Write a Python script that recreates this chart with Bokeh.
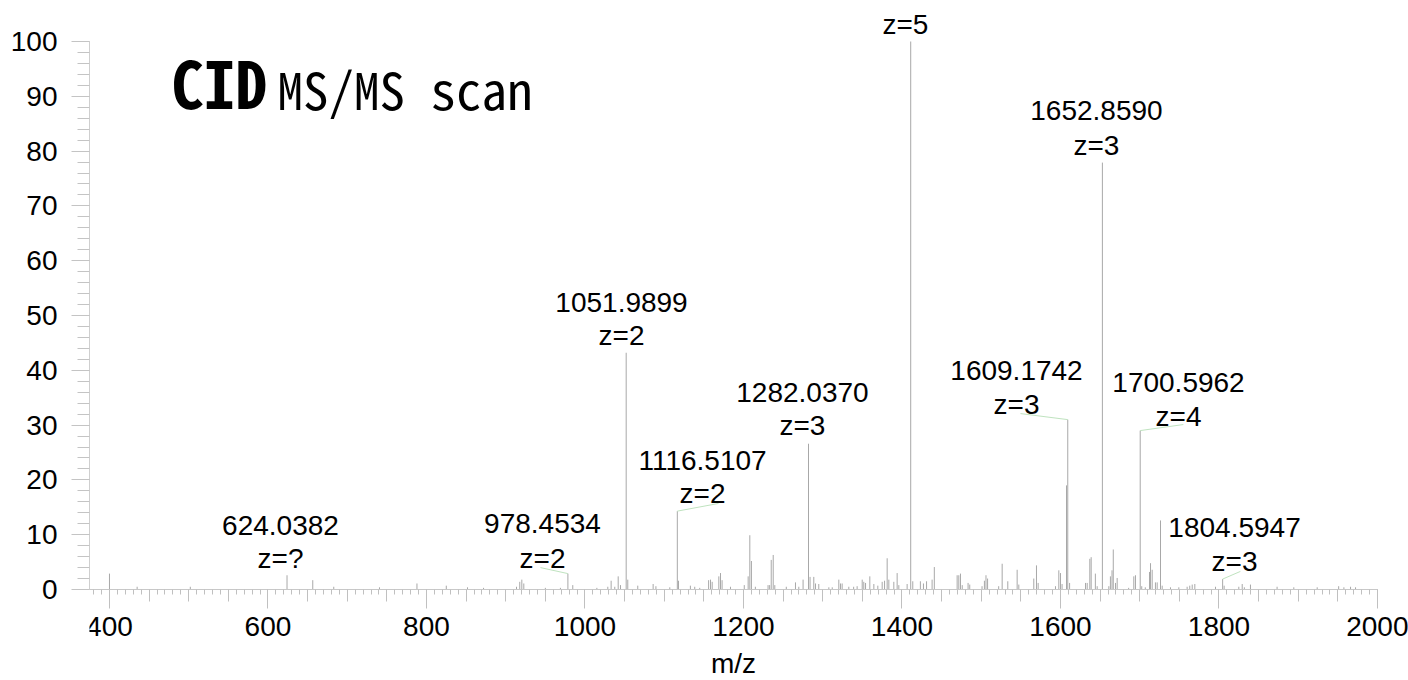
from bokeh.plotting import figure
from bokeh.models import (LinearAxis, FixedTicker, Range1d, ColumnDataSource)
from bokeh.core.properties import value
from bokeh.embed import file_html
from bokeh.resources import INLINE

# ---------------- data ----------------
peak_mz = [400.0, 434.9, 502.0, 624.0382, 656.5, 683.0, 740.7, 788.0, 825.0, 851.8,
           872.0, 913.6, 917.7, 920.3, 922.8, 950.0, 969.0, 978.4534, 984.6, 1015.0,
           1028.8, 1033.0, 1037.6, 1041.9, 1044.8, 1051.9899, 1054.0, 1066.6, 1086.0, 1089.5,
           1107.0, 1116.5107, 1118.0, 1133.0, 1138.5, 1144.8, 1156.0, 1158.4, 1160.5, 1168.9,
           1171.0, 1173.0, 1183.6, 1201.0, 1205.9, 1208.0, 1210.0, 1215.0, 1231.0, 1233.0,
           1235.0, 1237.5, 1239.5, 1254.0, 1265.6, 1269.8, 1275.2, 1282.0370, 1284.0, 1288.7,
           1290.9, 1295.0, 1307.7, 1312.0, 1320.3, 1322.4, 1324.5, 1332.9, 1339.0, 1343.4,
           1349.8, 1351.8, 1354.0, 1359.4, 1364.5, 1369.5, 1375.0, 1378.0, 1381.3, 1383.4,
           1389.7, 1393.9, 1396.0, 1406.5, 1411.0, 1413.6, 1423.2, 1427.1, 1431.0, 1438.0,
           1440.8, 1469.6, 1471.7, 1473.8, 1476.0, 1483.4, 1485.5, 1501.0, 1504.0, 1506.0,
           1508.0, 1522.0, 1526.4, 1533.5, 1545.3, 1547.4, 1566.3, 1569.7, 1571.8, 1593.7,
           1597.9, 1600.0, 1602.0, 1607.6, 1609.1742, 1611.5, 1631.6, 1633.7, 1637.0, 1638.7,
           1644.0, 1646.3, 1652.8590, 1661.0, 1663.0, 1665.0, 1666.6, 1669.4, 1671.5, 1686.0,
           1692.5, 1694.6, 1700.5962, 1702.5, 1707.0, 1712.3, 1713.6, 1715.7, 1719.8, 1722.0,
           1726.2, 1728.3, 1738.8, 1749.3, 1759.8, 1763.1, 1766.2, 1769.5, 1795.6, 1804.5947,
           1806.5, 1825.0, 1829.3, 1832.0, 1839.7, 1873.3, 1894.4, 1923.9, 1951.0, 1957.6,
           1966.0, 1972.3]
peak_int = [2.9, 0.5, 0.5, 2.6, 1.7, 0.5, 0.4, 1.1, 0.7, 0.4,
            0.3, 0.5, 1.4, 1.8, 1.1, 0.3, 0.3, 2.9, 0.8, 0.3,
            0.5, 1.6, 0.5, 2.4, 0.8, 43.2, 1.8, 0.7, 1.0, 0.6,
            0.4, 14.3, 1.6, 0.7, 0.5, 0.3, 1.7, 1.8, 1.4, 2.4,
            3.0, 1.7, 0.5, 0.8, 2.4, 9.9, 5.2, 0.5, 0.8, 0.8,
            5.4, 6.3, 0.8, 0.5, 1.3, 0.5, 1.8, 26.6, 2.3, 2.3,
            1.1, 1.0, 0.4, 0.4, 1.8, 1.1, 1.1, 0.5, 0.5, 0.6,
            1.8, 1.4, 1.2, 2.4, 1.0, 0.7, 1.4, 1.6, 5.7, 1.8,
            1.4, 3.0, 0.8, 1.0, 100.0, 1.5, 1.5, 1.1, 1.5, 1.8,
            4.1, 2.6, 2.6, 2.9, 0.8, 1.2, 0.9, 0.6, 1.6, 2.6,
            2.0, 0.6, 4.7, 1.5, 3.6, 0.9, 2.0, 4.4, 1.2, 0.6,
            3.5, 3.0, 1.0, 19.0, 31.0, 1.2, 1.2, 1.2, 5.6, 5.9,
            2.9, 0.6, 77.9, 0.6, 2.4, 3.5, 7.3, 1.2, 2.1, 0.3,
            2.4, 2.6, 29.0, 0.6, 0.4, 3.2, 4.8, 3.6, 1.3, 1.3,
            12.6, 0.7, 0.4, 0.4, 0.5, 0.7, 0.9, 1.0, 0.5, 1.9,
            0.7, 0.5, 1.0, 0.4, 0.9, 0.5, 0.4, 0.4, 0.6, 0.4,
            0.5, 0.4]

# annotated peaks
ann_mz = [624.0382, 978.4534, 1051.9899, 1116.5107, 1282.0370,
          1609.1742, 1652.8590, 1700.5962, 1804.5947]
ann_charge = ["z=?", "z=2", "z=2", "z=2", "z=3", "z=3", "z=3", "z=4", "z=3"]
base_charge = "z=5"

# tick definitions
x_major_ticks = [400, 600, 800, 1000, 1200, 1400, 1600, 1800, 2000]
y_major_ticks = [0, 10, 20, 30, 40, 50, 60, 70, 80, 90, 100]

# ---------------- layout (label placements) ----------------
lab_x = [615.8, 946.4, 1046.1, 1148.3, 1274.4, 1544.5, 1645.4, 1748.9, 1819.6]
lab_y1 = [11.68, 12.04, 52.37, 23.54, 35.95, 39.96, 87.41, 37.77, 11.31]
lab_y2 = [5.66, 5.66, 46.35, 17.52, 29.93, 33.76, 81.02, 31.57, 5.11]
base_lab = (1404.4, 103.1)

# leader lines: label end -> peak
lead_from_x = [943.8, 1168.5, 1549.5, 1755.0, 1827.0]
lead_from_y = [4.0, 15.7, 32.1, 30.1, 3.3]
lead_to_x = [978.4534, 1116.5107, 1609.1742, 1700.5962, 1804.5947]
lead_to_y = [2.9, 14.3, 31.0, 29.0, 1.9]

FONT = "Liberation Sans"
FS = "28px"
px_per_x = 1268 / 1600
px_per_y = 5.48
x_start = 374.8
x_end = 2000 + 31 / px_per_x
y_end = 589 / px_per_y
y_start = -(680 - 589) / px_per_y

p = figure(width=1408, height=680, output_backend="svg", toolbar_location=None,
           x_range=Range1d(x_start, x_end), y_range=Range1d(y_start, y_end),
           x_axis_location=None, min_border_left=89, min_border_right=0,
           min_border_top=0, min_border_bottom=0)
p.outline_line_color = None
p.xgrid.visible = False
p.ygrid.visible = False
p.background_fill_color = "white"
p.border_fill_color = "white"

# y axis
ya = p.yaxis[0]
ya.bounds = (0, 100)
ya.ticker = FixedTicker(ticks=y_major_ticks, minor_ticks=list(range(0, 101, 2)))
ya.axis_line_color = "#cfcfcf"
ya.major_tick_line_color = "#c4c4c4"
ya.minor_tick_line_color = "#c4c4c4"
ya.major_tick_out = 18
ya.major_tick_in = 0
ya.minor_tick_out = 12
ya.minor_tick_in = 0
ya.major_label_standoff = 14
ya.major_label_text_font = FONT
ya.major_label_text_font_size = FS
ya.major_label_text_color = "black"

# medium x ticks (every 50)
xm = LinearAxis(fixed_location=0, bounds=(x_start, 2000),
                ticker=FixedTicker(ticks=list(range(400, 2001, 50)), minor_ticks=[]))
xm.axis_line_color = None
xm.major_tick_line_color = "#c0c0c0"
xm.major_tick_out = 12
xm.major_tick_in = 0
xm.minor_tick_line_color = None
xm.major_label_text_color = None
p.add_layout(xm, "below")

# main x axis
xa = LinearAxis(fixed_location=0, axis_label="m/z", bounds=(x_start, 2000),
                ticker=FixedTicker(ticks=x_major_ticks, minor_ticks=list(range(380, 2001, 10))))
xa.axis_line_color = "#c8c8c8"
xa.major_tick_line_color = "#c0c0c0"
xa.minor_tick_line_color = "#c0c0c0"
xa.major_tick_out = 19
xa.major_tick_in = 0
xa.minor_tick_out = 5
xa.minor_tick_in = 0
xa.major_label_standoff = 8
xa.major_label_text_font = FONT
xa.major_label_text_font_size = FS
xa.major_label_text_color = "black"
xa.axis_label_text_font = FONT
xa.axis_label_text_font_size = FS
xa.axis_label_text_font_style = "normal"
xa.axis_label_text_color = "black"
xa.axis_label_standoff = 9
p.add_layout(xa, "below")

# spectrum
p.segment(x0=peak_mz, y0=[0] * len(peak_mz), x1=peak_mz, y1=peak_int,
          line_color="#a8a8a8", line_width=1)

# leaders
p.segment(x0=lead_from_x, y0=lead_from_y, x1=lead_to_x, y1=lead_to_y,
          line_color="#bfe3bf", line_width=1)

# labels
src = ColumnDataSource(dict(x=lab_x, y1=lab_y1, y2=lab_y2,
                            t1=["%.4f" % m for m in ann_mz], t2=ann_charge))
p.text(x="x", y="y1", text="t1", source=src, text_font=value(FONT), text_font_size=FS,
       text_align="center", text_baseline="middle", text_color="black")
p.text(x="x", y="y2", text="t2", source=src, text_font=value(FONT), text_font_size=FS,
       text_align="center", text_baseline="middle", text_color="black")
p.text(x=[base_lab[0]], y=[base_lab[1]], text=[base_charge], text_font=value(FONT),
       text_font_size=FS, text_align="center", text_baseline="middle", text_color="black")

# title
TFONT = "'Noto Sans Mono CJK JP', 'Noto Sans CJK JP', sans-serif"
p.text(x=[478.2], y=[(589 - 80) / px_per_y], text=["CID"], text_font=value(TFONT),
       text_font_style="bold", text_font_size="64px", text_align="left",
       text_baseline="middle", text_color="black")
p.text(x=[612.0], y=[(589 - 87) / px_per_y], text=["MS/MS scan"], text_font=value(TFONT),
       text_font_size="51px", text_align="left", text_baseline="middle",
       text_color="black")

open("out.html", "w").write(file_html(p, INLINE))
